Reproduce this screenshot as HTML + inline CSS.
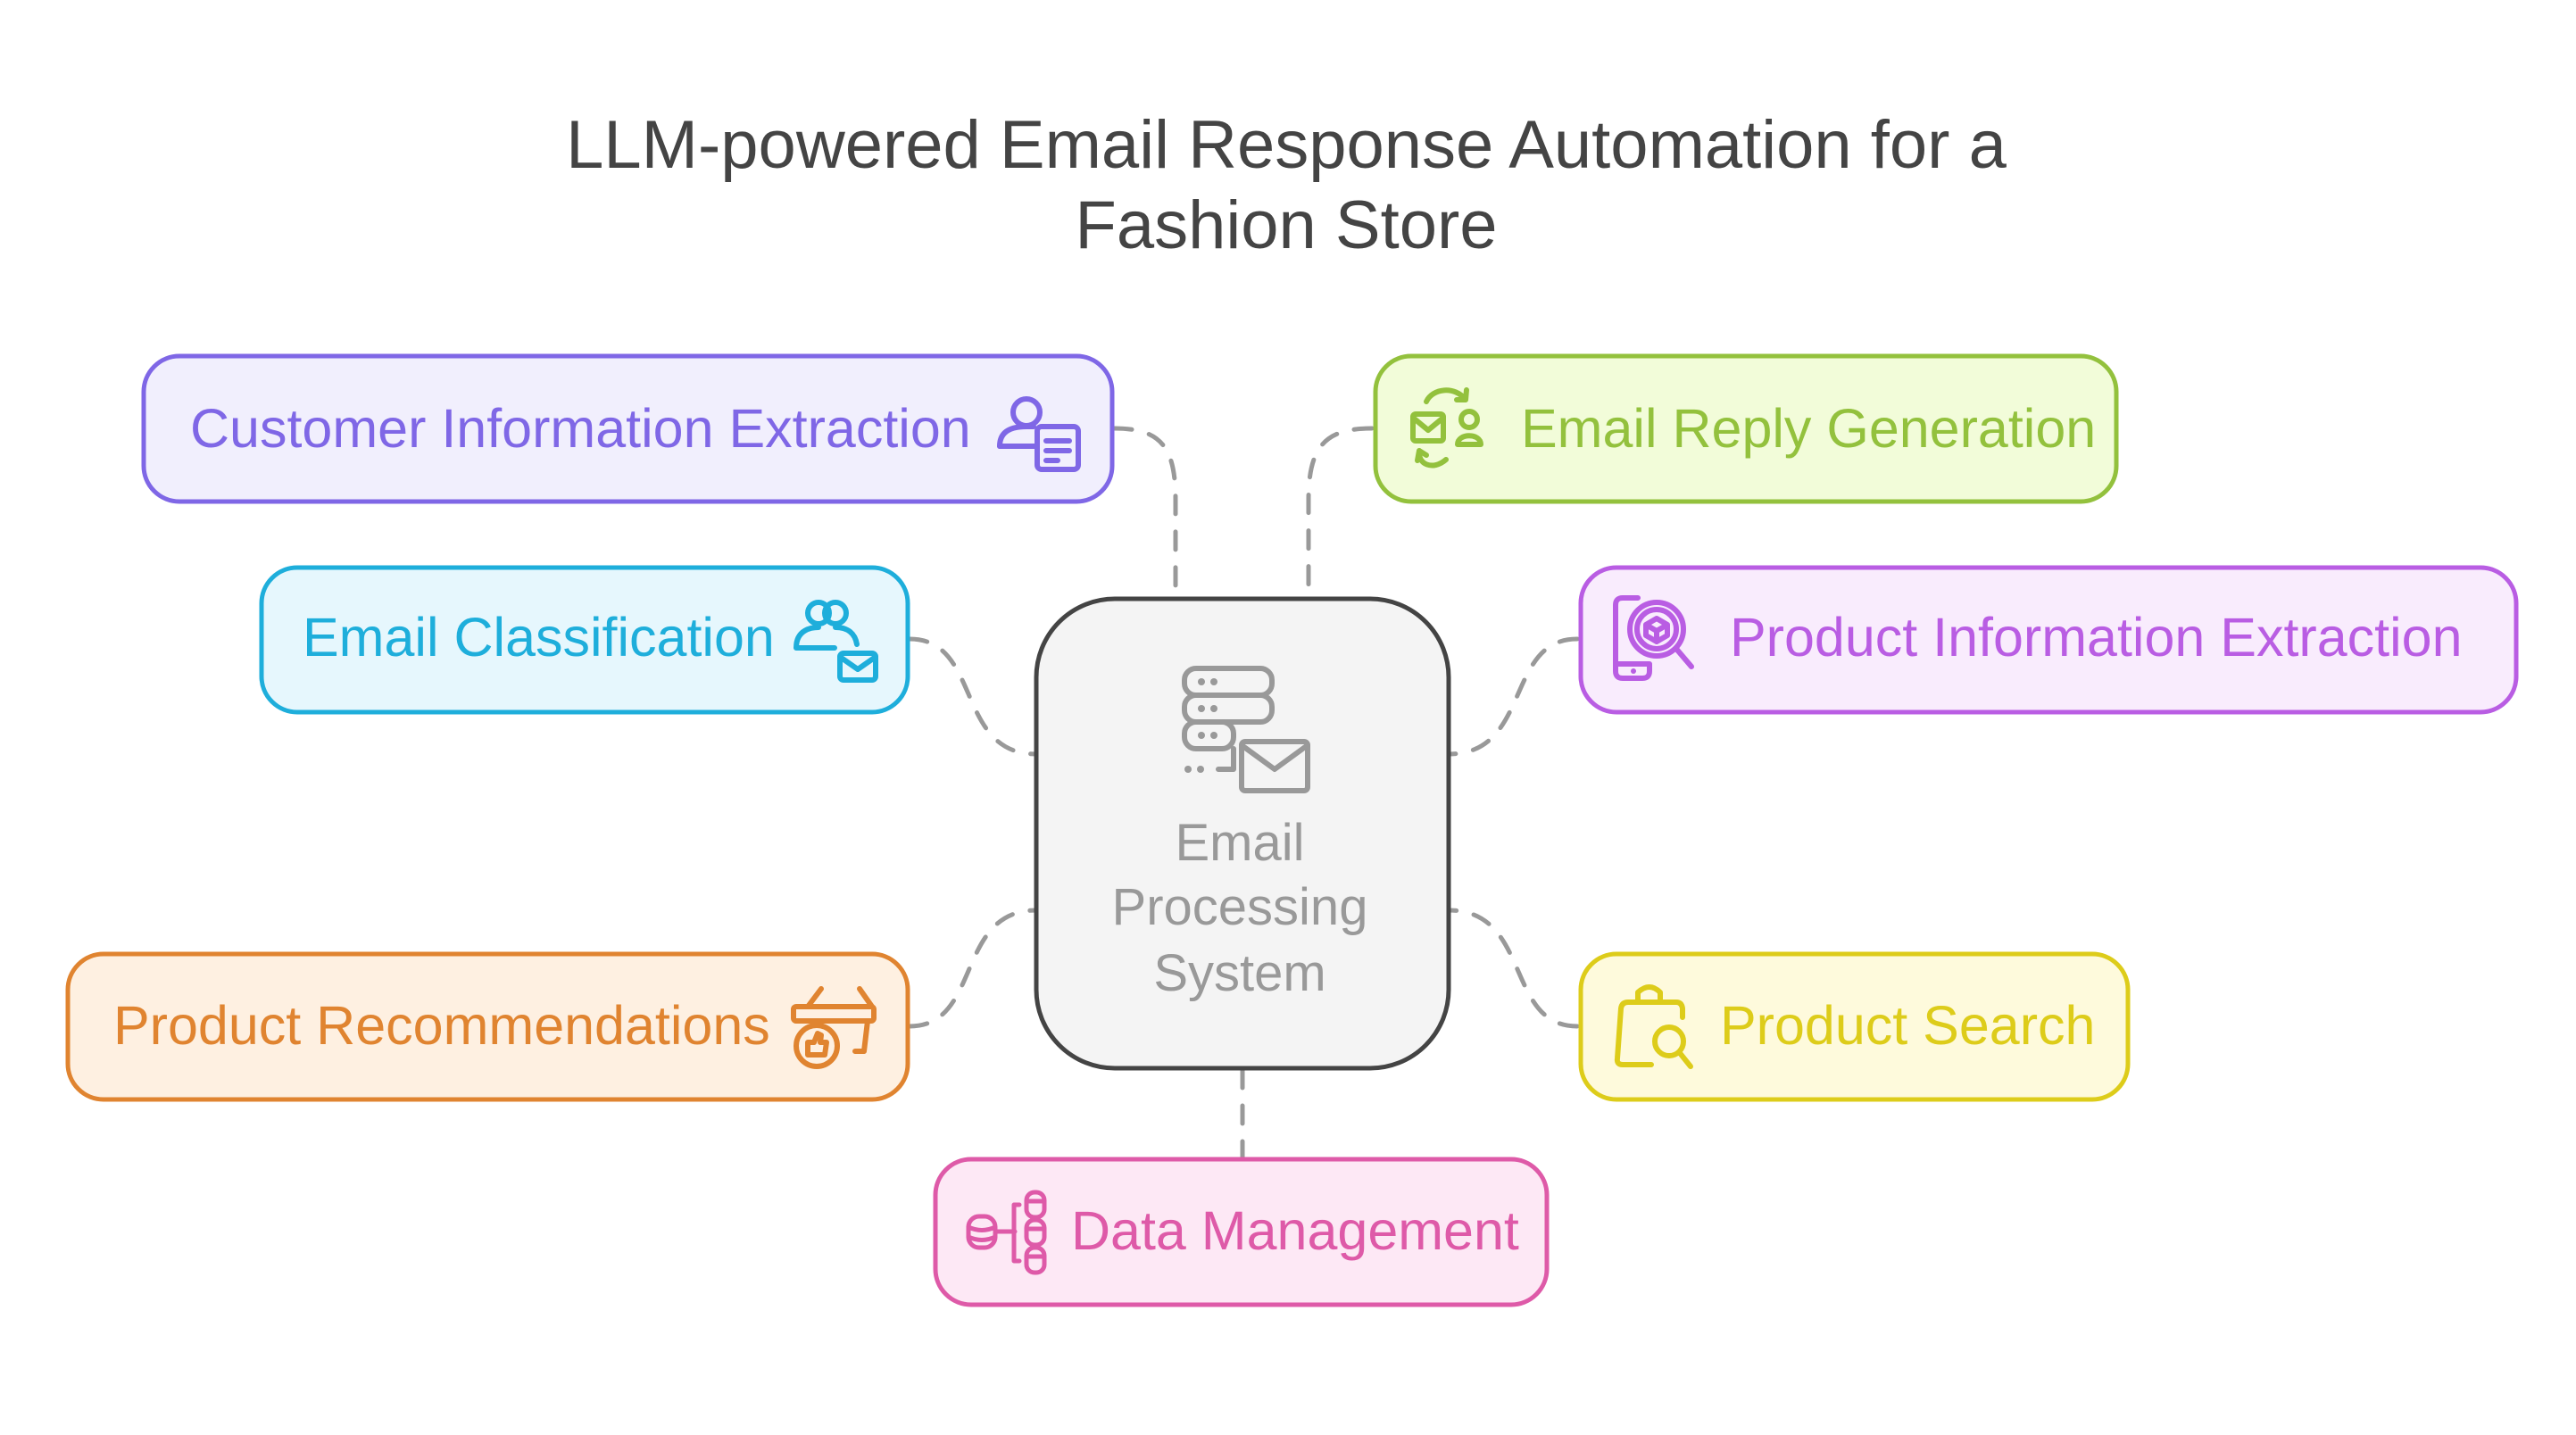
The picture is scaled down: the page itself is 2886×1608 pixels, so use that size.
<!DOCTYPE html>
<html><head><meta charset="utf-8"><style>
html,body{margin:0;padding:0;background:#fff;}
svg{display:block;}
text{font-family:"Liberation Sans",Arial,sans-serif;}
</style></head><body>
<svg width="2886" height="1608" viewBox="0 0 2886 1608" xmlns="http://www.w3.org/2000/svg">
<rect width="2886" height="1608" fill="#fff"/>
<text x="1441" y="188" text-anchor="middle" font-size="76" fill="#444">LLM-powered Email Response Automation for a</text>
<text x="1441" y="278" text-anchor="middle" font-size="76" fill="#444">Fashion Store</text>

<g fill="none" stroke="#999" stroke-width="5" stroke-dasharray="20 20" stroke-linecap="round">
<path d="M1248 480 C1300 480 1317 500 1317 560 L1317 669"/>
<path d="M1537 480 C1485 480 1466 500 1466 560 L1466 669"/>
<path d="M1019 716 C1100 716 1070 845 1161 845"/>
<path d="M1019 1150 C1100 1150 1070 1020 1161 1020"/>
<path d="M1767 716 C1686 716 1716 845 1623 845"/>
<path d="M1767 1150 C1686 1150 1716 1020 1623 1020"/>
<path d="M1392 1199 L1392 1297"/>
</g>

<!-- center -->
<rect x="1161" y="671" width="462" height="526" rx="88" fill="#f4f4f4" stroke="#444" stroke-width="5"/>
<g fill="none" stroke="#999" stroke-width="6" stroke-linecap="round" stroke-linejoin="round">
<rect x="1327" y="749" width="98" height="30" rx="13"/>
<rect x="1327" y="779" width="98" height="30" rx="13"/>
<rect x="1327" y="809" width="55" height="30" rx="13"/>
<path d="M1382 839 L1382 862 L1365 862"/>
<rect x="1391" y="831" width="74" height="55" rx="4"/>
<path d="M1391 835 L1428 862 L1465 835"/>
</g>
<g fill="#999"><circle cx="1346" cy="764" r="4"/><circle cx="1360" cy="764" r="4"/><circle cx="1346" cy="794" r="4"/><circle cx="1360" cy="794" r="4"/><circle cx="1346" cy="824" r="4"/><circle cx="1360" cy="824" r="4"/><circle cx="1331" cy="862" r="4"/><circle cx="1345" cy="862" r="4"/></g>
<g font-size="58" fill="#999" text-anchor="middle">
<text x="1389" y="964">Email</text>
<text x="1389" y="1036">Processing</text>
<text x="1389" y="1110">System</text>
</g>

<!-- Customer -->
<rect x="161" y="399" width="1085" height="163" rx="40" fill="#f1effd" stroke="#7f67e6" stroke-width="5"/>
<text x="213" y="501" font-size="61" fill="#7f67e6">Customer Information Extraction</text>
<g fill="none" stroke="#7f67e6" stroke-width="6" stroke-linecap="round" stroke-linejoin="round">
<circle cx="1150" cy="462" r="15"/><path d="M1120 500 C1120 482 1135 478 1150 478 L1158 478"/><path d="M1120 500 L1160 500"/>
<rect x="1162" y="478" width="46" height="48" rx="5"/><path d="M1172 494 L1198 494 M1172 505 L1198 505 M1172 516 L1185 516"/>
</g>

<!-- Email classification -->
<rect x="293" y="636" width="724" height="162" rx="40" fill="#e6f7fd" stroke="#1eaedb" stroke-width="5"/>
<text x="339" y="735" font-size="61" fill="#1eaedb">Email Classification</text>
<g fill="none" stroke="#1eaedb" stroke-width="6" stroke-linecap="round" stroke-linejoin="round">
<circle cx="917" cy="687" r="12"/><circle cx="936" cy="687" r="12"/><path d="M892 726 C892 705 910 703 917 703 M936 703 C950 703 958 710 960 722 M892 726 L935 726"/>
<rect x="941" y="732" width="40" height="30" rx="4"/><path d="M941 736 L961 750 L981 736"/>
</g>

<!-- Product Recommendations -->
<rect x="76" y="1069" width="941" height="163" rx="40" fill="#fef0e1" stroke="#e08430" stroke-width="5"/>
<text x="127" y="1170" font-size="61" fill="#e08430">Product Recommendations</text>
<g fill="none" stroke="#e08430" stroke-width="6" stroke-linecap="round" stroke-linejoin="round">
<path d="M905 1128 L920 1108 M963 1108 L977 1128"/><rect x="889" y="1128" width="90" height="16" rx="3"/>
<path d="M972 1144 L968 1178 L958 1178"/><circle cx="915" cy="1172" r="23"/>
<path d="M905 1182 L905 1168 L912 1168 L916 1158 L920 1160 L919 1168 L926 1168 L924 1182 Z"/>
</g>

<!-- Email Reply -->
<rect x="1541" y="399" width="830" height="163" rx="40" fill="#f2fcd9" stroke="#93c13d" stroke-width="5"/>
<text x="1704" y="501" font-size="61" fill="#93c13d">Email Reply Generation</text>
<g fill="none" stroke="#93c13d" stroke-width="6" stroke-linecap="round" stroke-linejoin="round">
<path d="M1598 450 C1605 435 1630 432 1642 448 M1642 448 L1643 437 M1642 448 L1632 448"/>
<path d="M1620 515 C1605 528 1588 520 1590 505 M1590 505 L1588 516 M1590 505 L1598 510"/>
<rect x="1583" y="464" width="34" height="30" rx="3"/><path d="M1583 468 L1600 482 L1617 468"/>
<circle cx="1646" cy="470" r="9"/><path d="M1633 498 C1633 485 1659 485 1659 498 Z"/>
</g>

<!-- Product Info -->
<rect x="1771" y="636" width="1048" height="162" rx="40" fill="#f9ecfd" stroke="#b95de3" stroke-width="5"/>
<text x="1938" y="735" font-size="61" fill="#b95de3">Product Information Extraction</text>
<g fill="none" stroke="#b95de3" stroke-width="6" stroke-linecap="round" stroke-linejoin="round">
<path d="M1835 670 L1818 670 Q1810 670 1810 678 L1810 752 Q1810 760 1818 760 L1840 760 Q1848 760 1848 752 L1848 745"/>
<path d="M1810 744 L1848 744"/><circle cx="1856" cy="705" r="30"/><circle cx="1856" cy="705" r="22"/>
<path d="M1856 693 L1844 700 L1844 712 L1856 719 L1868 712 L1868 700 Z M1844 700 L1856 707 L1868 700 M1856 707 L1856 719"/>
<path d="M1878 727 L1895 747"/>
</g>
<circle cx="1830" cy="752" r="3" fill="#b95de3"/>

<!-- Product Search -->
<rect x="1771" y="1069" width="613" height="163" rx="40" fill="#fefadc" stroke="#ddcc1a" stroke-width="5"/>
<text x="1927" y="1170" font-size="61" fill="#ddcc1a">Product Search</text>
<g fill="none" stroke="#ddcc1a" stroke-width="6" stroke-linecap="round" stroke-linejoin="round">
<path d="M1850 1193 L1818 1193 Q1811 1193 1812 1186 L1816 1130 Q1817 1123 1824 1123 L1878 1123 Q1884 1123 1885 1130 L1885 1140"/>
<path d="M1835 1123 L1835 1112 Q1848 1100 1860 1112 L1860 1123"/>
<circle cx="1870" cy="1167" r="16"/><path d="M1882 1180 L1894 1195"/>
</g>

<!-- Data Management -->
<rect x="1048" y="1299" width="685" height="163" rx="40" fill="#fde8f5" stroke="#de5aa8" stroke-width="5"/>
<text x="1200" y="1400" font-size="61" fill="#de5aa8">Data Management</text>
<g fill="none" stroke="#de5aa8" stroke-width="5" stroke-linecap="round" stroke-linejoin="round">
<rect x="1085" y="1363" width="30" height="35" rx="12"/><path d="M1085 1375 Q1100 1382 1115 1375 M1085 1386 Q1100 1393 1115 1386"/>
<path d="M1115 1380 L1137 1380 M1142 1350 L1136 1350 L1136 1413 L1142 1413"/>
<rect x="1150" y="1336" width="20" height="28" rx="9"/><rect x="1150" y="1367" width="20" height="28" rx="9"/><rect x="1150" y="1398" width="20" height="28" rx="9"/>
<path d="M1150 1346 L1170 1346 M1150 1377 L1170 1377 M1150 1408 L1170 1408"/>
</g>
</svg>
</body></html>
